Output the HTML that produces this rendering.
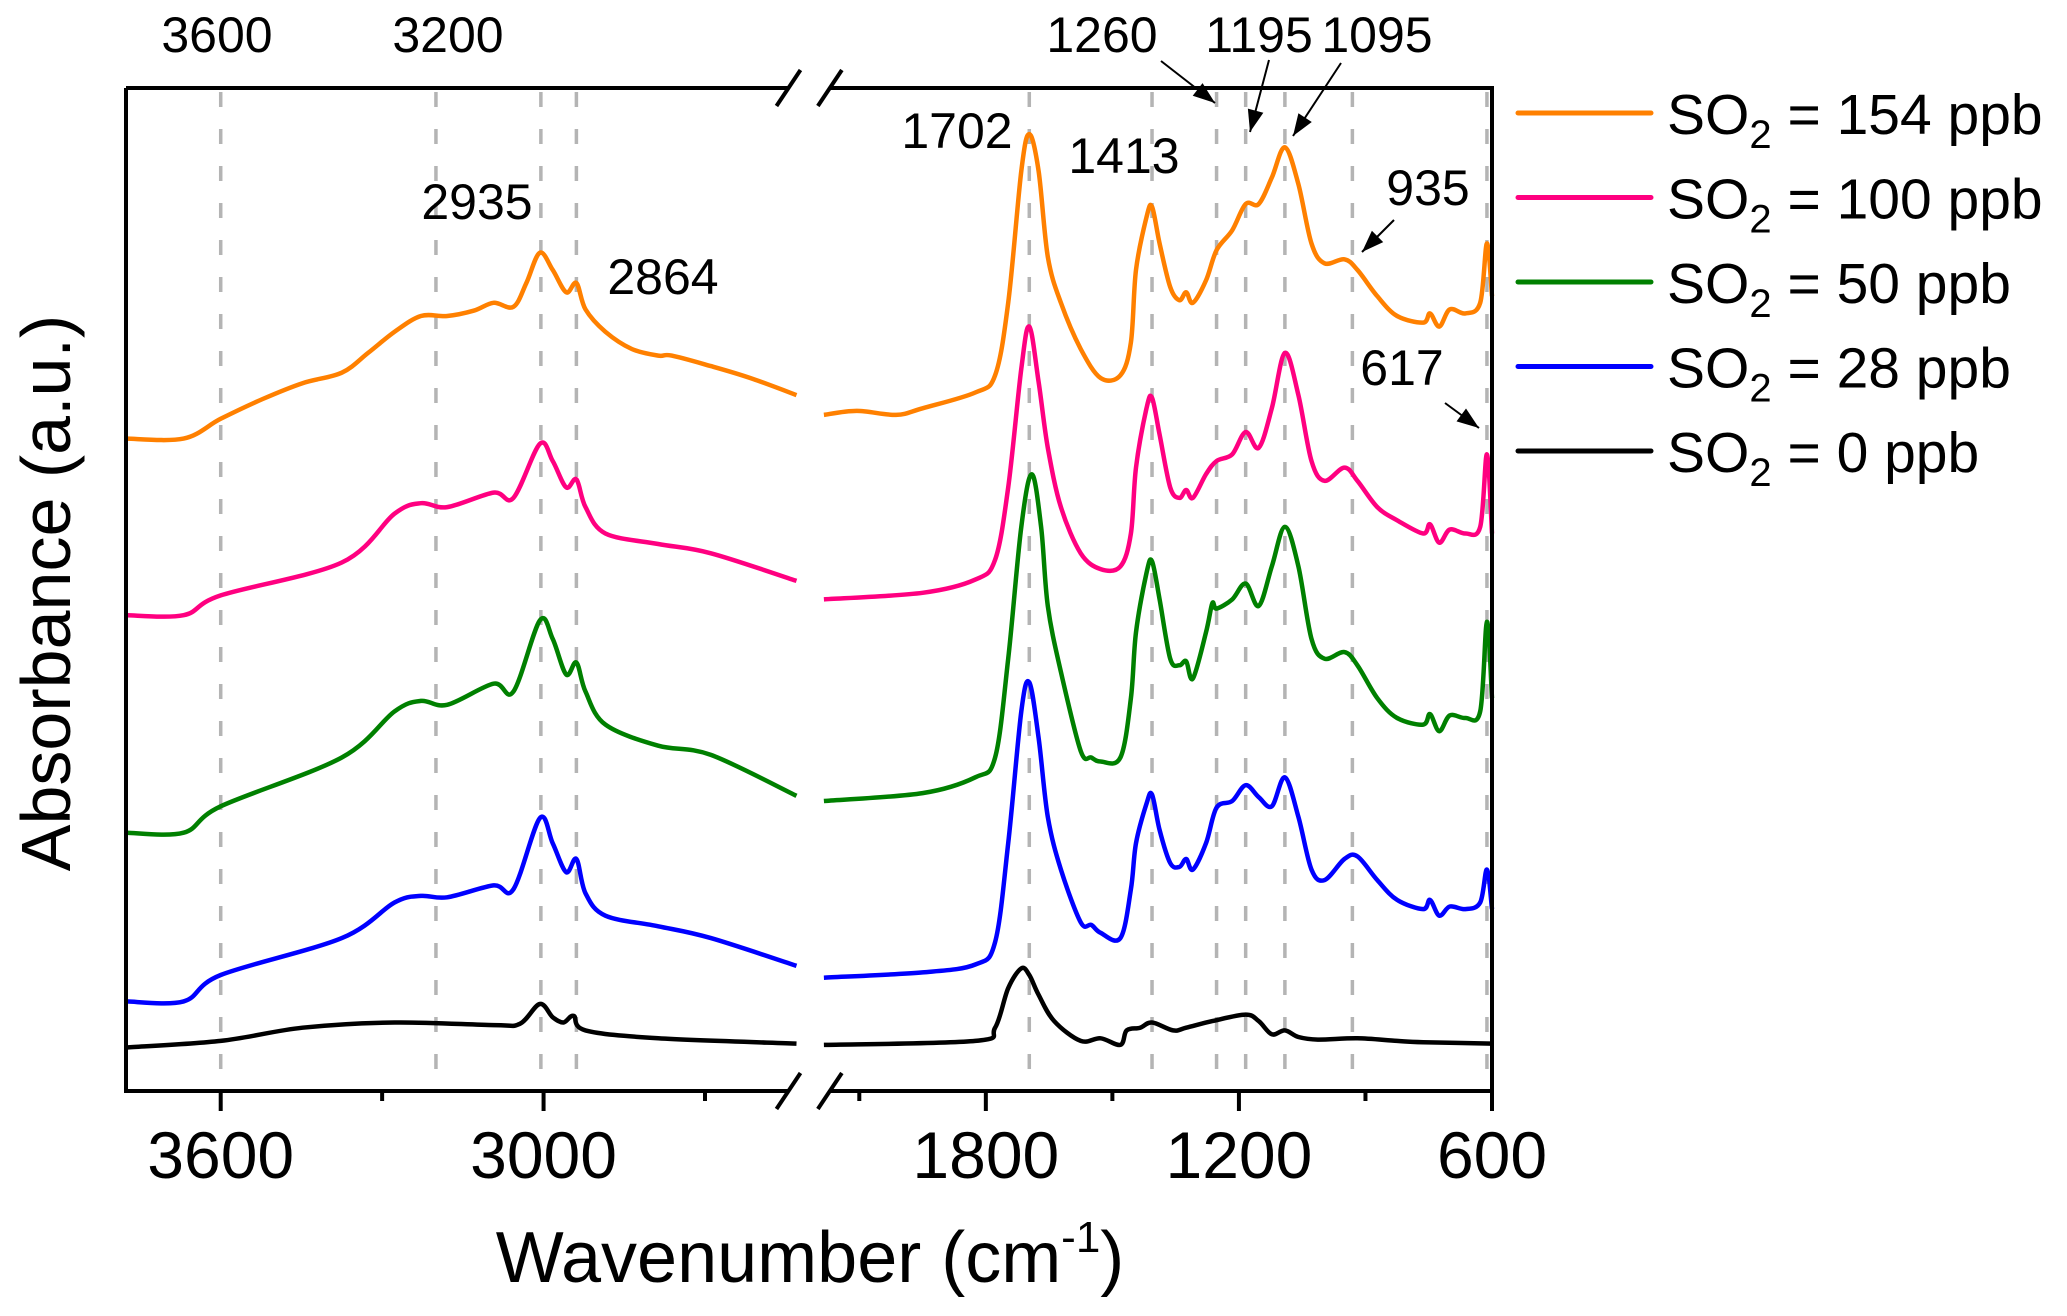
<!DOCTYPE html>
<html><head><meta charset="utf-8"><style>
html,body{margin:0;padding:0;background:#fff}
svg{display:block}
text{font-family:"Liberation Sans",Arial,sans-serif;fill:#000}
</style></head><body>
<svg id="chart" width="2067" height="1316" viewBox="0 0 2067 1316" xmlns="http://www.w3.org/2000/svg">
<g id="grid"></g>
<g id="curves"></g>
<g id="frame"></g>
<g id="ticks"></g>
<g id="annot"></g>
<g id="legend"></g>
<text x="0" y="0" font-size="70" text-anchor="middle" transform="translate(70,593) rotate(-90)">Absorbance (a.u.)</text>
<text x="810" y="1282" font-size="72" text-anchor="middle">Wavenumber (cm<tspan font-size="44" dy="-30">-1</tspan><tspan dy="30">)</tspan></text>
</svg>
<script>
// ---- data ----
const leftTicks = [3600, 3000];
const leftMinor = [3300, 2700];
const rightTicks = [1800, 1200, 600];
const rightMinor = [2100, 1500, 900];
const refLinesLeft = [3600, 3200, 3005, 2939];
const refLinesRight = [1697, 1406, 1253, 1184, 1091, 931, 612];
const seriesNames = ["SO2 = 154 ppb","SO2 = 100 ppb","SO2 = 50 ppb","SO2 = 28 ppb","SO2 = 0 ppb"];
const seriesLabels = ["154","100","50","28","0"];
const seriesColors = ["#FF8000","#FF0080","#008000","#0000FF","#000000"];

const orangeLeft = [[3776,4.95],[3669,4.95],[3600,5.10],[3522,5.25],[3448,5.37],[3375,5.45],[3326,5.60],[3277,5.76],[3228,5.88],[3179,5.88],[3130,5.92],[3093,5.98],[3056,5.95],[3032,6.13],[3007,6.36],[2983,6.23],[2958,6.06],[2939,6.13],[2922,5.93],[2885,5.76],[2836,5.63],[2787,5.58],[2762,5.58],[2689,5.50],[2616,5.41],[2530,5.28]];
const pinkLeft = [[3776,3.61],[3669,3.61],[3600,3.76],[3375,4.01],[3277,4.38],[3228,4.46],[3179,4.43],[3093,4.54],[3056,4.50],[3007,4.91],[2983,4.78],[2958,4.58],[2939,4.64],[2922,4.43],[2885,4.23],[2787,4.15],[2689,4.08],[2530,3.87]];
const greenLeft = [[3776,1.96],[3669,1.96],[3600,2.16],[3375,2.53],[3277,2.88],[3228,2.96],[3179,2.93],[3093,3.09],[3056,3.03],[3007,3.57],[2983,3.43],[2958,3.16],[2939,3.25],[2922,3.03],[2885,2.78],[2787,2.62],[2689,2.55],[2530,2.24]];
const blueLeft = [[3776,0.68],[3669,0.68],[3600,0.88],[3375,1.16],[3277,1.43],[3228,1.48],[3179,1.47],[3093,1.56],[3056,1.53],[3007,2.07],[2983,1.88],[2958,1.66],[2939,1.76],[2922,1.50],[2885,1.33],[2787,1.25],[2689,1.16],[2530,0.95]];
const blackLeft = [[3776,0.33],[3600,0.38],[3448,0.48],[3277,0.52],[3093,0.50],[3044,0.51],[3007,0.66],[2983,0.56],[2963,0.52],[2944,0.57],[2922,0.46],[2787,0.40],[2530,0.36]];

const orangeRight = [[2184,5.13],[2106,5.16],[2013,5.13],[1950,5.18],[1825,5.30],[1778,5.43],[1747,5.98],[1716,6.98],[1697,7.26],[1675,6.98],[1653,6.33],[1622,5.98],[1575,5.63],[1528,5.41],[1481,5.43],[1456,5.68],[1444,6.23],[1419,6.63],[1406,6.71],[1388,6.43],[1363,6.10],[1341,6.00],[1325,6.06],[1309,5.98],[1278,6.15],[1253,6.38],[1216,6.53],[1184,6.73],[1153,6.73],[1122,6.93],[1091,7.16],[1059,6.88],[1028,6.43],[997,6.28],[950,6.31],[919,6.23],[872,6.03],[825,5.88],[763,5.83],[747,5.90],[725,5.80],[700,5.93],[663,5.90],[628,5.98],[612,6.43],[600,6.03]];
const pinkRight = [[2184,3.73],[1950,3.78],[1825,3.88],[1778,4.03],[1747,4.58],[1716,5.48],[1697,5.80],[1675,5.38],[1653,4.88],[1622,4.43],[1575,4.08],[1528,3.96],[1481,3.98],[1456,4.23],[1444,4.73],[1419,5.18],[1406,5.26],[1388,4.98],[1363,4.58],[1341,4.50],[1325,4.56],[1309,4.50],[1278,4.68],[1253,4.78],[1216,4.83],[1184,5.00],[1153,4.88],[1122,5.18],[1091,5.60],[1059,5.28],[1028,4.78],[997,4.63],[950,4.73],[919,4.63],[872,4.43],[825,4.33],[763,4.23],[747,4.30],[725,4.16],[700,4.26],[663,4.23],[628,4.28],[612,4.83],[600,4.23]];
const greenRight = [[2184,2.20],[1950,2.26],[1825,2.38],[1778,2.53],[1747,3.28],[1716,4.28],[1691,4.68],[1669,4.28],[1653,3.68],[1622,3.18],[1575,2.58],[1550,2.53],[1528,2.50],[1481,2.53],[1456,2.98],[1444,3.48],[1419,3.93],[1406,4.02],[1388,3.73],[1363,3.28],[1341,3.23],[1325,3.26],[1309,3.13],[1278,3.48],[1263,3.70],[1253,3.66],[1216,3.73],[1184,3.85],[1153,3.68],[1122,3.98],[1091,4.28],[1059,3.98],[1028,3.43],[997,3.28],[950,3.33],[919,3.23],[872,2.98],[825,2.83],[763,2.78],[747,2.86],[725,2.73],[700,2.85],[663,2.83],[628,2.88],[612,3.56],[600,2.98]];
const blueRight = [[2184,0.86],[1950,0.90],[1825,0.96],[1778,1.13],[1747,1.88],[1716,2.88],[1697,3.10],[1675,2.68],[1653,2.08],[1622,1.68],[1575,1.28],[1550,1.26],[1528,1.20],[1481,1.16],[1456,1.53],[1444,1.88],[1419,2.18],[1406,2.25],[1388,1.98],[1363,1.73],[1341,1.70],[1325,1.76],[1309,1.68],[1278,1.88],[1253,2.15],[1216,2.20],[1184,2.32],[1153,2.23],[1122,2.16],[1091,2.38],[1059,2.08],[1028,1.68],[997,1.60],[950,1.76],[919,1.78],[872,1.60],[825,1.45],[763,1.38],[747,1.45],[725,1.33],[700,1.40],[663,1.38],[628,1.43],[612,1.68],[600,1.38]];
const blackRight = [[2184,0.35],[1825,0.38],[1778,0.48],[1747,0.78],[1716,0.93],[1697,0.88],[1675,0.73],[1638,0.53],[1575,0.38],[1528,0.40],[1481,0.35],[1466,0.46],[1434,0.48],[1406,0.52],[1356,0.46],[1325,0.48],[1263,0.53],[1184,0.58],[1153,0.53],[1122,0.43],[1091,0.46],[1059,0.41],[1013,0.39],[919,0.40],[825,0.38],[763,0.37],[600,0.36]];

// ---- axes ----
const L=126, R=1492, T=88, B=1091;
function xLeft(w){return L+(3776-w)*0.5381;}
function xRight(w){return R-(w-600)*0.4218;}
function yS(v){return B-v*131.8;}
const NS="http://www.w3.org/2000/svg";
function mk(tag,attrs,parent){const e=document.createElementNS(NS,tag);for(const k in attrs)e.setAttribute(k,attrs[k]);parent.appendChild(e);return e;}
function smoothPath(pts){
  let d='M'+pts[0][0].toFixed(1)+','+pts[0][1].toFixed(1);
  for(let i=0;i<pts.length-1;i++){
    const p0=pts[i-1]||pts[i],p1=pts[i],p2=pts[i+1],p3=pts[i+2]||p2;
    const c1x=p1[0]+(p2[0]-p0[0])/6,c1y=p1[1]+(p2[1]-p0[1])/6;
    const c2x=p2[0]-(p3[0]-p1[0])/6,c2y=p2[1]-(p3[1]-p1[1])/6;
    d+='C'+c1x.toFixed(1)+','+c1y.toFixed(1)+' '+c2x.toFixed(1)+','+c2y.toFixed(1)+' '+p2[0].toFixed(1)+','+p2[1].toFixed(1);
  }
  return d;
}

const grid=document.getElementById('grid');
refLinesLeft.concat(refLinesRight).forEach((w,i)=>{
  const x=i<refLinesLeft.length?xLeft(w):xRight(w);
  const ln=mk('line',{x1:x,x2:x,y1:T+4,y2:B-2,stroke:'#b4b4b4','stroke-width':3.5,'stroke-dasharray':'15 22'},grid);
  
  
});

const curves=document.getElementById('curves');
const leftSets=[orangeLeft,pinkLeft,greenLeft,blueLeft,blackLeft];
const rightSets=[orangeRight,pinkRight,greenRight,blueRight,blackRight];
for(let i=4;i>=0;i--){
  const dl=smoothPath(leftSets[i].map(p=>[xLeft(p[0]),yS(p[1])]));
  const dr=smoothPath(rightSets[i].map(p=>[xRight(p[0]),yS(p[1])]));
  const p1=mk('path',{d:dl,fill:'none',stroke:seriesColors[i],'stroke-width':4.5,'stroke-linejoin':'round'},curves);
  
  
  const p2=mk('path',{d:dr,fill:'none',stroke:seriesColors[i],'stroke-width':4.5,'stroke-linejoin':'round'},curves);
  
  
}

const frame=document.getElementById('frame');
const gapA=xLeft(2530)-8, gapB=xRight(2184)+6;
[['M'+L+','+T+'H'+(gapA)],['M'+(gapB)+','+T+'H'+R+'V'+B+'H'+gapB],['M'+gapA+','+B+'H'+L+'V'+T]].forEach(d=>{
  const p=mk('path',{d:d[0],fill:'none',stroke:'#000','stroke-width':4},frame);
  
  
});
[T,B].forEach(y=>{[gapA,gapB].forEach(x=>{
  const s=mk('line',{x1:x-12,y1:y+18,x2:x+12,y2:y-18,stroke:'#000','stroke-width':4},frame);
  
  
});});

const ticks=document.getElementById('ticks');
function tick(x,len){const t=mk('line',{x1:x,x2:x,y1:B,y2:B+len,stroke:'#000','stroke-width':4},ticks);}
function tlabel(x,s){const t=mk('text',{x:x,y:1178,'font-size':66,'text-anchor':'middle'},ticks);t.textContent=s;}
leftTicks.forEach(w=>{tick(xLeft(w),20);tlabel(xLeft(w),w);});
leftMinor.forEach(w=>tick(xLeft(w),10));
rightTicks.forEach(w=>{tick(xRight(w),20);tlabel(xRight(w),w);});
rightMinor.forEach(w=>tick(xRight(w),10));

const annLabels=[["3600",217,52],["3200",448,52],["2935",477,219],["2864",663,294],["1702",957,148],["1413",1124,173],["1260",1102,52],["1195",1259,52],["1095",1377,52],["935",1428,205],["617",1402,385]];
const arrows=[[1161,61,1215,103],[1269,60,1250,132],[1341,63,1293,136],[1394,220,1362,252],[1445,403,1479,428]];
const annot=document.getElementById('annot');
annLabels.forEach(a=>{const t=mk('text',{x:a[1],y:a[2],'font-size':50,'text-anchor':'middle'},annot);t.textContent=a[0];});
arrows.forEach(a=>{
  const g=mk('g',{},annot);
  
  
  mk('line',{x1:a[0],y1:a[1],x2:a[2],y2:a[3],stroke:'#000','stroke-width':2},g);
  const dx=a[2]-a[0],dy=a[3]-a[1],l=Math.hypot(dx,dy),ux=dx/l,uy=dy/l,h=22,w=8;
  const bx=a[2]-ux*h,by=a[3]-uy*h;
  mk('polygon',{points:a[2]+','+a[3]+' '+(bx-uy*w)+','+(by+ux*w)+' '+(bx+uy*w)+','+(by-ux*w),fill:'#000'},g);
});

const legend=document.getElementById('legend');
seriesNames.forEach((n,i)=>{
  const y=113+i*84.5;
  const g=mk('g',{},legend);
  
  
  mk('line',{x1:1518,x2:1651,y1:y,y2:y,stroke:seriesColors[i],'stroke-width':5,'stroke-linecap':'round'},g);
  const t=mk('text',{x:1667,y:y+21,'font-size':57},g);
  t.innerHTML='SO<tspan font-size="40" dy="14">2</tspan><tspan dy="-14"> = '+seriesLabels[i]+' ppb</tspan>';
});
</script>
</body></html>
